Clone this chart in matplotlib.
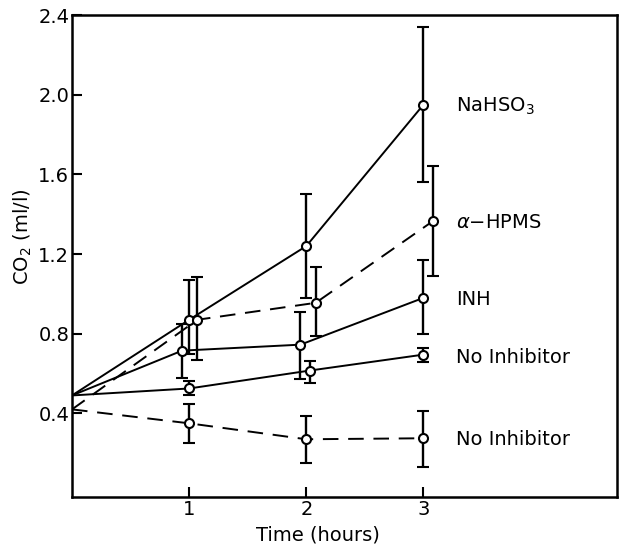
"""
CO2 evolution vs time with different inhibitors
"""

# Imports
import numpy as np
import matplotlib
matplotlib.use("Agg")
import matplotlib.pyplot as plt

# Data (x in hours, y in ml/l)
nahso3_x = [0, 1.0, 2.0, 3.0]
nahso3_y = [0.49, 0.87, 1.24, 1.95]
nahso3_lo = [None, 0.70, 0.98, 1.56]
nahso3_hi = [None, 1.07, 1.50, 2.34]

hpms_x = [0, 1.07, 2.08, 3.08]
hpms_y = [0.42, 0.87, 0.955, 1.365]
hpms_lo = [None, 0.67, 0.79, 1.09]
hpms_hi = [None, 1.085, 1.135, 1.64]

inh_x = [0, 0.94, 1.95, 3.0]
inh_y = [0.49, 0.715, 0.745, 0.98]
inh_lo = [None, 0.58, 0.575, 0.80]
inh_hi = [None, 0.85, 0.91, 1.17]

noinh_x = [0, 1.0, 2.03, 3.0]
noinh_y = [0.49, 0.525, 0.615, 0.695]
noinh_lo = [None, 0.49, 0.55, 0.66]
noinh_hi = [None, 0.565, 0.665, 0.73]

noinh2_x = [0, 1.0, 2.0, 3.0]
noinh2_y = [0.42, 0.35, 0.27, 0.275]
noinh2_lo = [None, 0.25, 0.15, 0.13]
noinh2_hi = [None, 0.445, 0.385, 0.41]

labels = ["NaHSO$_3$", "$\\alpha$\u2212HPMS", "INH", "No Inhibitor", "No Inhibitor"]
label_y = [1.94, 1.36, 0.97, 0.68, 0.27]

x_ticks = [1, 2, 3]
y_ticks = [0.4, 0.8, 1.2, 1.6, 2.0, 2.4]


def draw_series(ax, x, y, lo, hi, dashed):
    # Line through all points, including the start value at t = 0
    line_kw = dict(color="black", lw=1.4)
    if dashed:
        line_kw["dashes"] = (8, 5)
    ax.plot(x, y, **line_kw)

    # Error bars and open markers only on measured points (skip t = 0)
    xs = np.array(x[1:])
    ys = np.array(y[1:])
    err = [ys - np.array(lo[1:]), np.array(hi[1:]) - ys]
    ax.errorbar(xs, ys, yerr=err, fmt="o", color="black", ecolor="black",
                elinewidth=1.7, capsize=4, capthick=1.7,
                markersize=6.5, markerfacecolor="white", markeredgewidth=1.5,
                zorder=3)


def main():
    fig = plt.figure(figsize=(6.23, 5.46), dpi=100)
    ax = fig.add_axes([0.1156, 0.0897, 0.8744, 0.8828])

    draw_series(ax, nahso3_x, nahso3_y, nahso3_lo, nahso3_hi, False)
    draw_series(ax, hpms_x, hpms_y, hpms_lo, hpms_hi, True)
    draw_series(ax, inh_x, inh_y, inh_lo, inh_hi, False)
    draw_series(ax, noinh_x, noinh_y, noinh_lo, noinh_hi, False)
    draw_series(ax, noinh2_x, noinh2_y, noinh2_lo, noinh2_hi, True)

    # Series labels to the right of the last points
    for lab, ly in zip(labels, label_y):
        ax.text(3.28, ly, lab, fontsize=14, va="center", ha="left")

    ax.set_xlim(0, 4.65)
    ax.set_ylim(-0.02, 2.4)
    ax.set_xticks(x_ticks)
    ax.set_xticklabels([str(t) for t in x_ticks])
    ax.set_yticks(y_ticks)
    ax.set_yticklabels(["%.1f" % t for t in y_ticks])
    ax.tick_params(direction="in", length=7, width=1.5, labelsize=14, pad=2)

    for side in ax.spines.values():
        side.set_linewidth(1.8)

    ax.set_xlabel("Time (hours)", fontsize=14)
    ax.set_ylabel("CO$_2$ (ml/l)", fontsize=14)
    ax.xaxis.set_label_coords(0.451, -0.06)
    ax.yaxis.set_label_coords(-0.07, 0.54)

    fig.savefig("out.png", dpi=100)


main()
